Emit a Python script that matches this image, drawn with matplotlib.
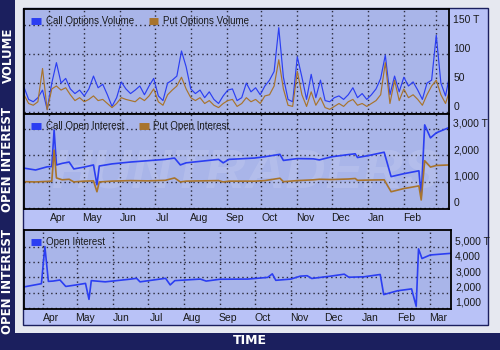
import matplotlib
matplotlib.use("Agg")
import matplotlib.pyplot as plt
from matplotlib.patches import Rectangle
from matplotlib.lines import Line2D
import pandas as pd

plt.rcParams["font.family"] = ["Liberation Sans", "DejaVu Sans"]

# ---- data ----
vol_dates = pd.date_range("2005-03-10", periods=93, freq="4D")
call_volume = [43, 22, 18, 25, 38, 5, 50, 85, 50, 58, 40, 32, 38, 28, 40, 62, 42, 48, 30, 10,
               25, 52, 40, 32, 38, 45, 30, 45, 58, 28, 20, 50, 55, 62, 105, 78, 40, 32, 38, 25,
               35, 22, 15, 28, 38, 40, 20, 25, 50, 35, 42, 30, 45, 55, 70, 145, 60, 22, 18, 95,
               60, 22, 65, 25, 55, 20, 18, 25, 28, 22, 30, 42, 25, 32, 22, 30, 40, 58, 98, 30,
               62, 35, 60, 45, 52, 38, 22, 50, 55, 132, 50, 28, 68]
put_volume = [30, 15, 12, 18, 75, 4, 40, 45, 38, 42, 30, 20, 25, 18, 22, 28, 20, 22, 15, 8,
              15, 25, 22, 20, 18, 25, 20, 28, 40, 18, 12, 30, 38, 45, 60, 40, 25, 20, 25, 15,
              20, 12, 8, 15, 20, 22, 10, 15, 25, 18, 22, 15, 28, 30, 45, 90, 40, 12, 10, 70,
              30, 10, 35, 12, 25, 8, 5, 10, 15, 10, 18, 22, 12, 15, 10, 15, 20, 30, 85, 15,
              55, 20, 40, 25, 30, 22, 12, 30, 45, 55, 30, 15, 40]

oi_dates = ["2005-03-10", "2005-03-20", "2005-03-30", "2005-04-03", "2005-04-05", "2005-04-07",
            "2005-04-12", "2005-04-18", "2005-04-22", "2005-05-01", "2005-05-09", "2005-05-12",
            "2005-05-14", "2005-05-25", "2005-06-10", "2005-06-25", "2005-07-10", "2005-07-18",
            "2005-07-23", "2005-07-28", "2005-08-10", "2005-08-25", "2005-08-29", "2005-09-03",
            "2005-09-25", "2005-10-04", "2005-10-17", "2005-10-20", "2005-11-01", "2005-11-15",
            "2005-11-20", "2005-12-01", "2005-12-15", "2005-12-21", "2005-12-23", "2006-01-01",
            "2006-01-15", "2006-01-21", "2006-02-01", "2006-02-14", "2006-02-16", "2006-02-19",
            "2006-02-24", "2006-03-01", "2006-03-12"]
call_oi = [1520, 1450, 1570, 1580, 2960, 1640, 1700, 1750, 1490, 1560, 1640, 890, 1600, 1680,
           1750, 1800, 1850, 1900, 1640, 1720, 1780, 1850, 1720, 1850, 1900, 1950, 2040, 1810,
           1880, 1870, 1830, 1950, 2030, 2060, 1920, 1990, 2120, 1200, 1310, 1420, 450, 3150,
           2660, 2850, 3050]
put_oi = [1010, 1000, 1020, 1030, 2200, 1150, 1080, 1100, 1000, 1030, 1040, 630, 1000, 1030,
          1050, 1040, 1060, 1150, 1000, 1030, 1040, 1050, 1000, 1030, 1030, 1050, 1140, 1010,
          1050, 1080, 1100, 1090, 1110, 1130, 1060, 1070, 1080, 630, 750, 850, 320, 1800,
          1560, 1620, 1640]

tot_dates = ["2005-03-16", "2005-03-31", "2005-04-03", "2005-04-06", "2005-04-10", "2005-04-16",
             "2005-04-21", "2005-04-30", "2005-05-08", "2005-05-11", "2005-05-13", "2005-05-25",
             "2005-06-15", "2005-06-21", "2005-06-24", "2005-07-16", "2005-07-20", "2005-07-24",
             "2005-08-15", "2005-08-20", "2005-09-01", "2005-09-25", "2005-10-12", "2005-10-16",
             "2005-10-19", "2005-11-01", "2005-11-09", "2005-11-15", "2005-11-19", "2005-12-05",
             "2005-12-17", "2005-12-21", "2006-01-03", "2006-01-17", "2006-01-20", "2006-02-01",
             "2006-02-13", "2006-02-17", "2006-02-19", "2006-02-22", "2006-03-01", "2006-03-19"]
total_oi = [2370, 2580, 5000, 2730, 2750, 2820, 2400, 2500, 2600, 1560, 2780, 2700, 2870, 2930,
            2700, 2930, 2500, 2780, 2880, 2750, 2870, 2880, 2990, 3220, 2800, 2880, 3070, 3100,
            2920, 3070, 3200, 3000, 3030, 3180, 1870, 2120, 2240, 1110, 4850, 4220, 4450, 4560]

months = ["Apr", "May", "Jun", "Jul", "Aug", "Sep", "Oct", "Nov", "Dec", "Jan", "Feb", "Mar"]

# ---- style ----
NAVY = "#1b1f5e"
PANEL = "#e6e8f0"
BOX = "#b9c2f7"
PLOT_BG = "#a9b5e9"
BLUE = "#2b3ef2"
BROWN = "#a8742c"
TXT = "#1a1a1a"

W, H = 500, 350
fig = plt.figure(figsize=(5, 3.5), dpi=100, facecolor=NAVY)


def fbox(x0, y0, x1, y1):
    # pixel box (top-left origin) -> figure fraction rect
    return [x0 / W, 1 - y1 / H, (x1 - x0) / W, (y1 - y0) / H]


# background frame drawn in its own axes, behind the panels
bg = fig.add_axes([0, 0, 1, 1], zorder=-10)
bg.set_xlim(0, W)
bg.set_ylim(H, 0)
bg.axis("off")
bg.add_patch(Rectangle((15, 0), 485, 333, facecolor=PANEL, edgecolor="none"))
bg.add_patch(Rectangle((23, 8), 465, 317, facecolor=BOX, edgecolor=NAVY, linewidth=1))

month_starts = pd.date_range("2005-04-01", "2006-03-01", freq="MS")
label_pos = month_starts + pd.Timedelta(days=7)

ax1 = fig.add_axes(fbox(24, 9, 449, 114))
ax2 = fig.add_axes(fbox(24, 114, 449, 209))
ax3 = fig.add_axes(fbox(24, 230, 451, 309))

for ax in (ax1, ax2, ax3):
    ax.set_facecolor(PLOT_BG)
    for s in ax.spines.values():
        s.set_color("black")
        s.set_linewidth(1.3)
    ax.yaxis.tick_right()
    ax.tick_params(axis="both", which="both", length=0, labelsize=7.5, colors=TXT, pad=3)
    ax.set_xticks(month_starts)
    ax.grid(True, which="major", color="#2a2a3a", linestyle=(0, (1, 2.2)), linewidth=1.0)
    ax.set_axisbelow(True)

ax1.plot(vol_dates, call_volume, color=BLUE, lw=0.85)
ax1.plot(vol_dates, put_volume, color=BROWN, lw=0.85)
ax1.set_xlim(pd.Timestamp("2005-03-10"), pd.Timestamp("2006-03-12"))
ax1.set_ylim(-3, 177)
ax1.set_yticks([0, 50, 100, 150])
ax1.set_yticklabels(["0", "50", "100", "150 T"])
ax1.set_xticklabels([])

ax2.plot(pd.to_datetime(oi_dates), call_oi, color=BLUE, lw=1.2)
ax2.plot(pd.to_datetime(oi_dates), put_oi, color=BROWN, lw=1.2)
ax2.set_xlim(pd.Timestamp("2005-03-10"), pd.Timestamp("2006-03-12"))
ax2.set_ylim(-20, 3560)
ax2.set_yticks([0, 1000, 2000, 3000])
ax2.set_yticklabels(["0", "1,000", "2,000", "3,000 T"])
ax2.set_xticklabels([])
ax2.set_xticks(label_pos[:-1], minor=True)
ax2.set_xticklabels(months[:-1], minor=True)

ax3.plot(pd.to_datetime(tot_dates), total_oi, color=BLUE, lw=1.2)
ax3.set_xlim(pd.Timestamp("2005-03-16"), pd.Timestamp("2006-03-19"))
ax3.set_ylim(930, 6080)
ax3.set_yticks([1000, 2000, 3000, 4000, 5000])
ax3.set_yticklabels(["1,000", "2,000", "3,000", "4,000", "5,000 T"])
ax3.set_xticklabels([])
ax3.set_xticks(label_pos, minor=True)
ax3.set_xticklabels(months, minor=True)

for ax in (ax2, ax3):
    ax.tick_params(axis="x", which="minor", pad=3)

# y labels sit just above their grid lines
for ax in (ax1, ax2, ax3):
    for lab in ax.get_yticklabels():
        lab.set_va("bottom")

# watermark
ax2.text(0.52, 0.36, "HUNTRADERS", transform=ax2.transAxes, ha="center", va="center",
         fontsize=40, fontweight="bold", style="italic", color="white", alpha=0.12, zorder=1)


def legend(ax, labels, colors):
    handles = [Line2D([], [], color=c, lw=5, solid_capstyle="butt") for c in colors]
    ax.legend(handles, labels, loc="upper left", ncol=len(labels), frameon=False,
              fontsize=7, handlelength=1.0, handletextpad=0.5, columnspacing=1.5,
              borderaxespad=0.35, labelcolor=TXT)


legend(ax1, ["Call Options Volume", "Put Options Volume"], [BLUE, BROWN])
legend(ax2, ["Call Open Interest", "Put Open Interest"], [BLUE, BROWN])
legend(ax3, ["Open Interest"], [BLUE])

# side and bottom captions
side = dict(color="white", fontsize=8.5, fontweight="bold", rotation=90, ha="center",
            va="center", family="DejaVu Sans")
fig.text(8 / W, 1 - 55 / H, "VOLUME", **side)
fig.text(8 / W, 1 - 160 / H, "OPEN INTEREST", **side)
fig.text(8 / W, 1 - 281 / H, "OPEN INTEREST", **side)
fig.text(250 / W, 1 - 341 / H, "TIME", color="white", fontsize=9, fontweight="bold",
         ha="center", va="center", family="DejaVu Sans")

fig.savefig("out.png", dpi=100, facecolor=NAVY)
